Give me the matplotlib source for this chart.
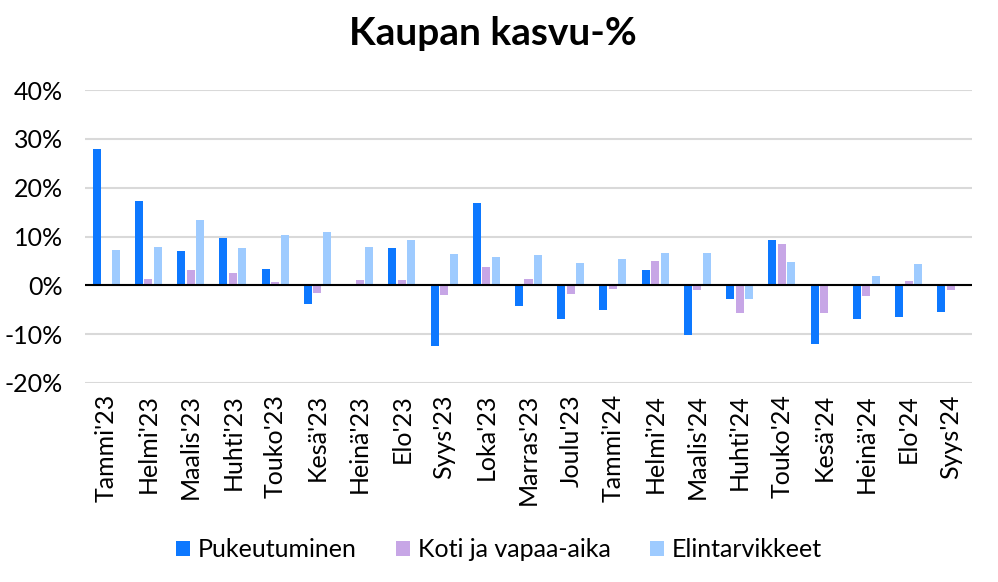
import numpy as np
import matplotlib
matplotlib.use('Agg')
import matplotlib.pyplot as plt
from matplotlib.ticker import FuncFormatter

plt.rcParams['font.family'] = ['Lato', 'DejaVu Sans']

# Kuukaudet ja sarjat (%)
months = ["Tammi'23", "Helmi'23", "Maalis'23", "Huhti'23", "Touko'23", "Kesä'23",
          "Heinä'23", "Elo'23", "Syys'23", "Loka'23", "Marras'23", "Joulu'23",
          "Tammi'24", "Helmi'24", "Maalis'24", "Huhti'24", "Touko'24", "Kesä'24",
          "Heinä'24", "Elo'24", "Syys'24"]
pukeutuminen = [27.9, 17.3, 7.0, 9.7, 3.4, -3.8, 0.1, 7.6, -12.4, 16.8, -4.2, -6.8,
                -5.1, 3.1, -10.1, -2.7, 9.2, -12.0, -6.8, -6.4, -5.4]
koti = [0.3, 1.3, 3.2, 2.5, 0.75, -1.5, 1.0, 1.0, -1.9, 3.7, 1.2, -1.7,
        -0.7, 4.9, -1.0, -5.6, 8.4, -5.6, -2.2, 0.9, -1.0]
elintarvikkeet = [7.2, 7.9, 13.4, 7.7, 10.4, 11.0, 7.9, 9.3, 6.4, 5.8, 6.2, 4.5,
                  5.4, 6.6, 6.6, -2.7, 4.8, 0.1, 1.9, 4.4, 0.1]

series = [("Pukeutuminen", pukeutuminen, '#0D78FF'),
          ("Koti ja vapaa-aika", koti, '#C7A6E6'),
          ("Elintarvikkeet", elintarvikkeet, '#9ECBFF')]

fig = plt.figure(figsize=(9.98, 5.82), dpi=100)
ax = fig.add_axes([85 / 998, 199 / 582, 887 / 998, 293 / 582])

x = np.arange(len(months))
w = 0.19
for i, (name, vals, col) in enumerate(series):
    ax.bar(x + (i - 1) * 0.225, vals, width=w, color=col, label=name, zorder=3)

ax.set_xlim(-0.5, len(months) - 0.5)
ax.set_ylim(-20, 40)
ax.set_yticks(range(-20, 41, 10))
ax.yaxis.set_major_formatter(FuncFormatter(lambda v, p: f"{v:.0f}%"))
ax.grid(axis='y', color='#D9D9D9', linewidth=1.5, zorder=0)
ax.axhline(0, color='black', linewidth=1.5, zorder=4)
for s in ax.spines.values():
    s.set_visible(False)
ax.tick_params(axis='y', length=0, labelsize=18, pad=16)
ax.set_xticks(x)
ax.set_xticklabels(months, rotation=90, fontsize=18)
ax.tick_params(axis='x', length=0, pad=8)

fig.suptitle("Kaupan kasvu-%", fontsize=28, fontweight='bold', x=0.494, y=0.973)
fig.legend(loc='center', bbox_to_anchor=(0.50, 0.055), ncol=3, frameon=False,
           fontsize=18, handlelength=0.55, handleheight=0.55, handletextpad=0.3,
           columnspacing=1.6)

fig.savefig('out.png', dpi=100)
